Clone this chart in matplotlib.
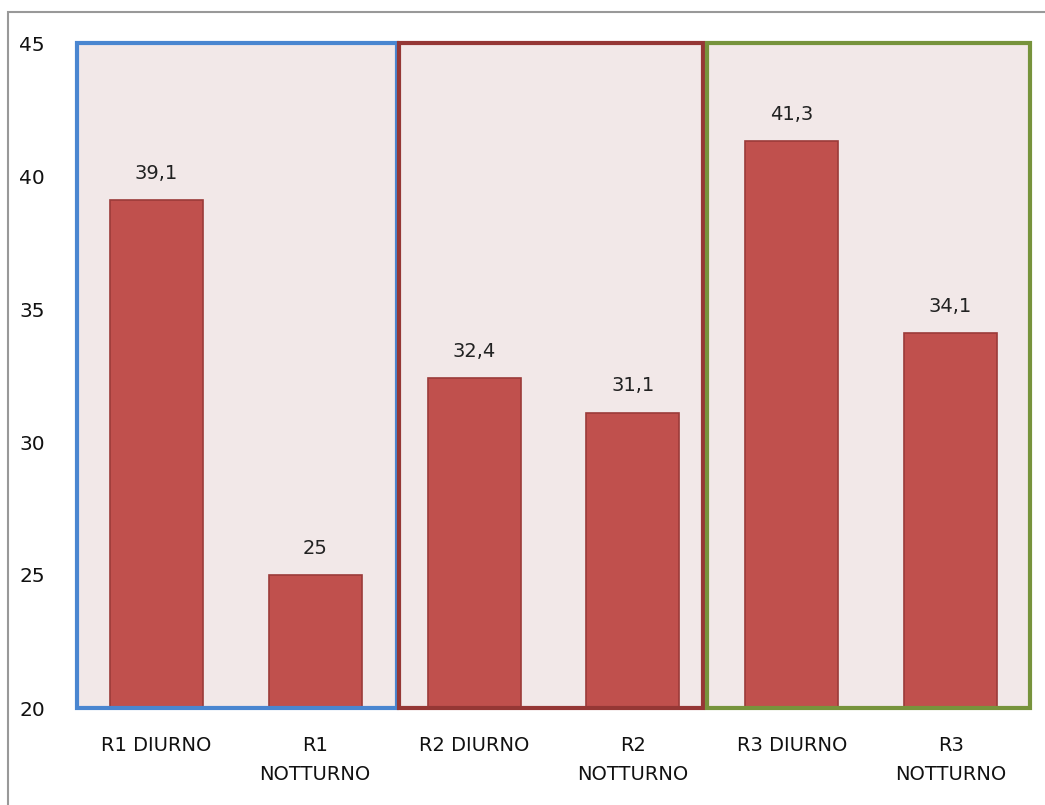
import matplotlib.pyplot as plt
from matplotlib.patches import Rectangle
import matplotlib.transforms as mtransforms

categories = ['R1 DIURNO', 'R1\nNOTTURNO', 'R2 DIURNO', 'R2\nNOTTURNO', 'R3 DIURNO', 'R3\nNOTTURNO']
values = [39.1, 25, 32.4, 31.1, 41.3, 34.1]
labels = ['39,1', '25', '32,4', '31,1', '41,3', '34,1']
groups = [(0, 1, '#4a86d0'), (2, 3, '#953735'), (4, 5, '#77933c')]

fig = plt.figure(figsize=(10.45, 8.05), dpi=100)
ax = fig.add_axes([77 / 1045, 1 - 708 / 805, 953 / 1045, 665 / 805])
ax.set_facecolor('#f2e8e8')

x = range(len(values))
ax.bar(x, [v - 20 for v in values], bottom=20, width=0.585,
       color='#c0504d', edgecolor='#9b3b39', linewidth=1.2, zorder=2)
for i, v in enumerate(values):
    ax.text(i, v + 0.65, labels[i], ha='center', va='bottom',
            fontsize=14, family='DejaVu Sans', color='#222222')

ax.set_xlim(-0.5, 5.5)
ax.set_ylim(20, 45)
ax.set_yticks([20, 25, 30, 35, 40, 45])
ax.set_xticks(list(x))
ax.set_xticklabels(categories, fontsize=14, family='DejaVu Sans',
                   linespacing=1.7, color='#111111')
ax.tick_params(axis='y', length=0, pad=23, labelsize=14.5, labelcolor='#111111')
ax.tick_params(axis='x', length=0, pad=20)
for s in ax.spines.values():
    s.set_visible(False)

# coloured frames round each pair of bars
trans = mtransforms.blended_transform_factory(ax.transData, ax.transAxes)
insets = [(0.0, -0.015), (0.028, 0.058), (-0.033, 0.0)]
for (a, b, col), (l, r) in zip(groups, insets):
    x0 = a - 0.5 + l
    x1 = b + 0.5 - r
    ax.add_patch(Rectangle((x0, 0), x1 - x0, 1, transform=trans, fill=False,
                           edgecolor=col, linewidth=3, clip_on=False, zorder=3))

# thin grey outer border
fig.add_artist(Rectangle((8 / 1045, -0.05), 1.1, 1 - 12 / 805 + 0.05,
                         transform=fig.transFigure, fill=False,
                         edgecolor='#999999', linewidth=1.5))

fig.savefig('out.png', dpi=100, facecolor='white')
